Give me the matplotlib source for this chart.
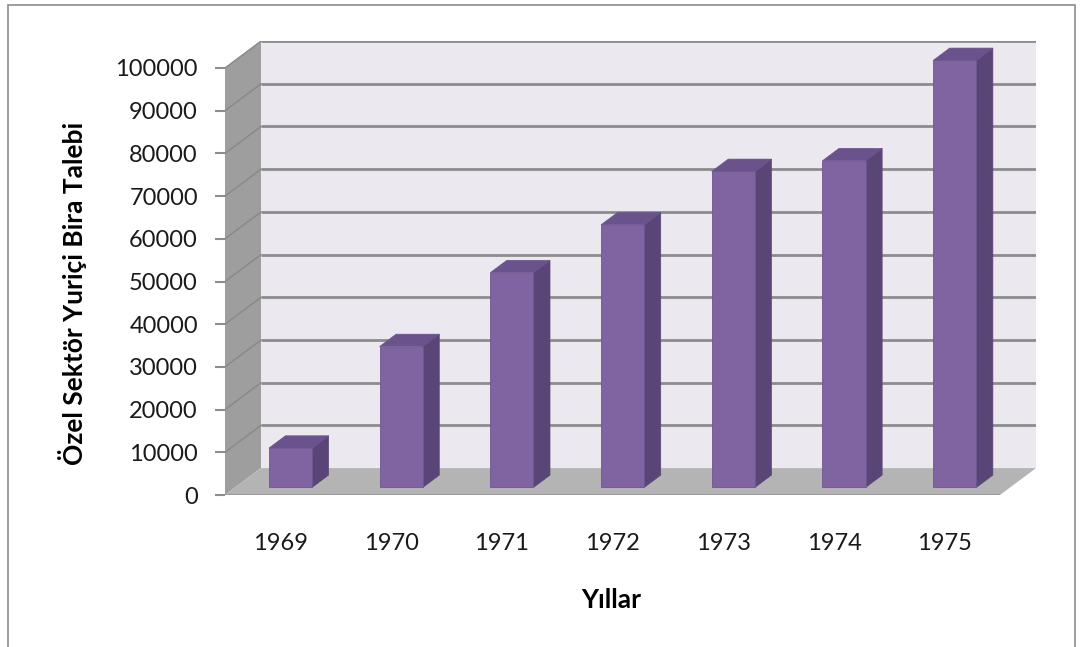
import matplotlib
matplotlib.use("Agg")
import matplotlib.pyplot as plt
from matplotlib.patches import Polygon, Rectangle

years = ["1969", "1970", "1971", "1972", "1973", "1974", "1975"]
demand = [9200, 33000, 50300, 61500, 74000, 76500, 100000]
y_ticks = list(range(0, 100001, 10000))

y_title = "Özel Sektör Yuriçi Bira Talebi"
x_title = "Yıllar"

# 3d look: depth offset in data units (category, value)
DX = 0.325
DY = 6300
d0, d1 = 0.28, 0.74      # bar depth start / end (fraction of full depth)
hw = 0.195               # half bar width
YMAX = 100000

front_c = "#8064A2"
side_c = "#5A4676"
top_c = "#6A538C"
wall_c = "#ECE8EF"
lwall_c = "#9E9E9E"
floor_c = "#B4B4B4"
grid_c = "#8C8C8C"

plt.rcParams['font.family'] = ['Lato', 'DejaVu Sans']

W, H = 1082, 647
fig = plt.figure(figsize=(W / 100, H / 100), dpi=100)
# axes: x=-0.5 -> px 225, y=0 -> px 495, y=100000 -> px 68
sx = (1000 - 225) / 7.0
sy = (495 - 68) / YMAX
x0 = -0.5
x1 = 6.5 + DX
y1 = YMAX + DY
left = 225
width = (x1 - x0) * sx
bottom = H - 495
height = y1 * sy
ax = fig.add_axes([left / W, bottom / H, width / W, height / H])
ax.set_xlim(x0, x1)
ax.set_ylim(0, y1)
for s in ax.spines.values():
    s.set_visible(False)
ax.patch.set_visible(False)

# walls and floor
ax.add_patch(Polygon([(x0 + DX, DY), (6.5 + DX, DY), (6.5 + DX, YMAX + DY), (x0 + DX, YMAX + DY)],
                     closed=True, fc=wall_c, ec="none", zorder=0))
ax.add_patch(Polygon([(x0, 0), (x0 + DX, DY), (x0 + DX, YMAX + DY), (x0, YMAX)],
                     closed=True, fc=lwall_c, ec="none", zorder=0))
ax.add_patch(Polygon([(x0, 0), (6.5, 0), (6.5 + DX, DY), (x0 + DX, DY)],
                     closed=True, fc=floor_c, ec="none", zorder=1))
ax.plot([x0, 6.5], [0, 0], color="#9A9A9A", lw=1.5, zorder=1.5, solid_capstyle="butt")

for t in y_ticks[1:]:
    ax.plot([x0 + DX, 6.5 + DX], [t + DY, t + DY], color=grid_c, lw=2, zorder=0.5,
            solid_capstyle="butt")
    ax.plot([x0, x0 + DX], [t, t + DY], color="#888888", lw=1.0, zorder=0.5)

# bars
for i, v in enumerate(demand):
    fx0 = i - hw + d0 * DX
    fx1 = i + hw + d0 * DX
    by = d0 * DY
    ox = (d1 - d0) * DX
    oy = (d1 - d0) * DY
    ax.add_patch(Polygon([(fx1, by), (fx1 + ox, by + oy), (fx1 + ox, by + oy + v), (fx1, by + v)],
                         closed=True, fc=side_c, ec=side_c, lw=0.5, zorder=3))
    ax.add_patch(Polygon([(fx0, by + v), (fx1, by + v), (fx1 + ox, by + oy + v), (fx0 + ox, by + oy + v)],
                         closed=True, fc=top_c, ec=top_c, lw=0.5, zorder=3))
    ax.add_patch(Rectangle((fx0, by), fx1 - fx0, v, fc=front_c, ec="#6E5690", lw=0.6, zorder=4))

# axes ticks
ax.set_yticks(y_ticks)
ax.set_yticklabels([str(t) for t in y_ticks], fontsize=17, color="#1a1a1a")
ax.tick_params(axis="y", length=7.5, width=1.5, color="#8C8C8C", pad=12)
ax.set_xticks(range(len(years)))
ax.set_xticklabels(years, fontsize=17, color="#1a1a1a")
ax.tick_params(axis="x", length=0, pad=27)

ax.set_ylabel(y_title, fontsize=19, fontweight="bold")
ax.set_xlabel(x_title, fontsize=19, fontweight="bold")
ax.xaxis.set_label_coords((611 - left) / width, -(600 - 495) / height)
ax.yaxis.set_label_coords(-(left - 72) / width, (495 - 293) / height)
ax.yaxis.label.set_va("center")
ax.xaxis.label.set_va("center")

# outer frame
fig.add_artist(Rectangle((8 / W, -0.01), (1075 - 8) / W, (H - 5) / H + 0.01,
                         transform=fig.transFigure, fill=False, ec="#8C8C8C", lw=1.2))

fig.savefig("out.png", dpi=100)
